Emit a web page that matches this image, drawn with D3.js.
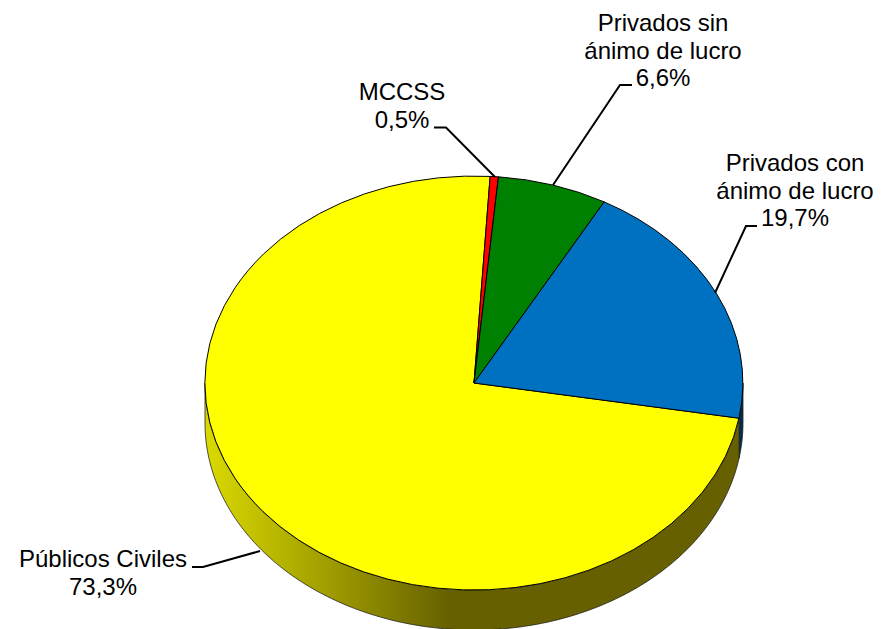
<!DOCTYPE html>
<html>
<head>
<meta charset="utf-8">
<script src="https://cdn.jsdelivr.net/npm/d3@7"></script>
<style>
  html, body { margin: 0; padding: 0; background: #fff; }
  text { font-family: "Liberation Sans", Arial, sans-serif; font-size: 24px; fill: #000; }
</style>
</head>
<body>
<script>
// pie sectors, clockwise from the yellow one
var categories = [['Públicos Civiles'], ['MCCSS'], ['Privados sin', 'ánimo de lucro'], ['Privados con', 'ánimo de lucro']];
var values = [73.3, 0.5, 6.6, 19.7];
var valueLabels = ['73,3%', '0,5%', '6,6%', '19,7%'];
var colors = ['#ffff00', '#ff0000', '#008000', '#0070c0'];
var wallColors = ['#666000', '#660000', '#003300', '#002d4d'];

var width = 887, height = 629;
var cx = 474, cy = 383, rx = 269, ry = 207, depth = 40;
var start = 99.8 * Math.PI / 180;

var svg = d3.select('body').append('svg')
  .attr('width', width)
  .attr('height', height)
  .style('display', 'block');

var pie = d3.pie().sort(null).startAngle(start).endAngle(start + 2 * Math.PI);
var arcs = pie(values);

var px = function(a) { return cx + rx * Math.sin(a); };
var py = function(a) { return cy - ry * Math.cos(a); };

// side wall of the disc
var grad = svg.append('defs').append('linearGradient')
  .attr('id', 'wall')
  .attr('gradientUnits', 'userSpaceOnUse')
  .attr('x1', cx - rx).attr('x2', cx - 24).attr('y1', 0).attr('y2', 0);
grad.append('stop').attr('offset', 0).attr('stop-color', '#dada00');
grad.append('stop').attr('offset', 1).attr('stop-color', wallColors[0]);

var wall = d3.area()
  .x(px)
  .y0(py)
  .y1(function(a) { return py(a) + depth; });

var visibleStart = Math.PI / 2, visibleEnd = 3 * Math.PI / 2;
var wallParts = [
  { from: visibleStart, to: start, fill: wallColors[3] },
  { from: start, to: visibleEnd, fill: 'url(#wall)' }
];

svg.selectAll('.wall').data(wallParts).enter().append('path')
  .attr('class', 'wall')
  .attr('d', function(d) {
    var n = Math.ceil((d.to - d.from) * 60);
    return wall(d3.range(n + 1).map(function(i) { return d.from + (d.to - d.from) * i / n; })) + 'Z';
  })
  .attr('fill', function(d) { return d.fill; })
  .attr('stroke', '#222')
  .attr('stroke-width', 0.8);

// top of the disc: a unit pie squashed into the ellipse
var arc = d3.arc().innerRadius(0).outerRadius(1);
svg.append('g')
  .attr('transform', 'translate(' + cx + ',' + cy + ') scale(' + rx + ',' + ry + ')')
  .selectAll('path').data(arcs).enter().append('path')
  .attr('d', arc)
  .attr('fill', function(d, i) { return colors[i]; })
  .attr('stroke', '#000')
  .attr('stroke-width', 1)
  .attr('vector-effect', 'non-scaling-stroke');

// labels
var labelLines = categories.map(function(c, i) { return c.concat(valueLabels[i]); });
var labelPos = [[103, 567], [402, 100], [663, 31], [795, 171]];
var leaders = [
  [[192, 567], [203, 567], [260, 551]],
  [[434, 127.5], [446, 127.5], [495, 177]],
  [[632, 85], [620, 85], [553, 185]],
  [[757, 226], [746, 226], [715, 293]]
];

svg.selectAll('.leader').data(leaders).enter().append('path')
  .attr('class', 'leader')
  .attr('d', d3.line())
  .attr('fill', 'none')
  .attr('stroke', '#000')
  .attr('stroke-width', 2);

svg.selectAll('.label').data(labelLines).enter().append('text')
  .attr('class', 'label')
  .attr('text-anchor', 'middle')
  .attr('transform', function(d, i) { return 'translate(' + labelPos[i] + ')'; })
  .selectAll('tspan').data(function(d) { return d; }).enter().append('tspan')
  .attr('x', 0)
  .attr('y', function(d, i) { return i * 27.6; })
  .text(function(d) { return d; });
</script>
</body>
</html>
